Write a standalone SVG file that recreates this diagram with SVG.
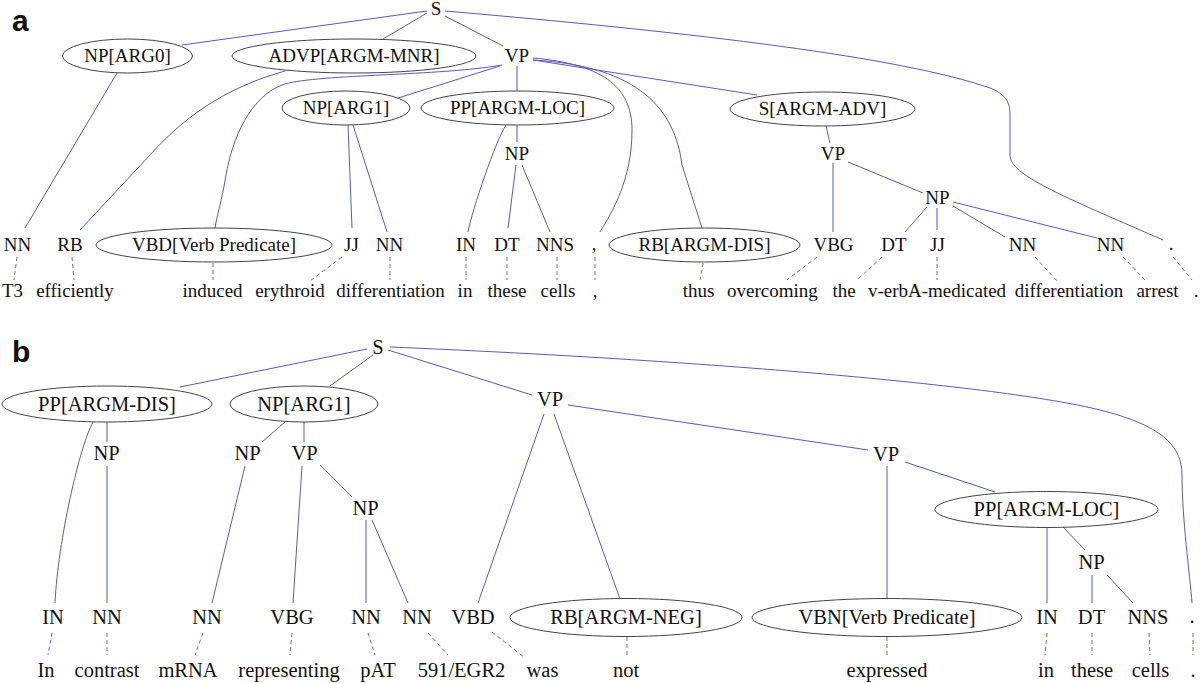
<svg xmlns="http://www.w3.org/2000/svg" width="1200" height="683" viewBox="0 0 1200 683">
<style>
text{font-family:"Liberation Serif","Times New Roman",serif;fill:#111;text-anchor:middle}
.a text{font-size:19px}
.b text{font-size:20.5px}
.lbl{font-family:"Liberation Sans",Arial,sans-serif;font-weight:bold;font-size:30px;text-anchor:start}
ellipse{fill:none;stroke:#444;stroke-width:1}
.e path{fill:none;stroke:#5b5bb5;stroke-width:1}
.d path{fill:none;stroke:#6b6bbf;stroke-width:1;stroke-dasharray:4,3}
</style>
<rect width="1200" height="683" fill="#fff"/>
<text class="lbl" x="12" y="31">a</text>
<text class="lbl" x="12" y="362">b</text>

<g id="edges-a" class="e">
<path d="M427,11 L182,45"/>
<path d="M427,13 L383,39"/>
<path d="M445,16 L503,46"/>
<path d="M445,11 C700,33 900,57 990,88 C1008,95 1010,105 1010,115 L1010,155 C1010,175 1060,195 1163,240"/>
<path d="M285,71 C235,85 190,110 150,155 L80,230"/>
<path d="M502,65 C440,76 320,74 285,84 C250,95 232,140 226,175 C222,200 217,215 215,228"/>
<path d="M500,66 L398,98"/>
<path d="M517,66 L517,91"/>
<path d="M533,58 C600,64 632,85 632,130 C632,180 612,212 600,232"/>
<path d="M533,60 C640,66 675,110 682,165 L702,228"/>
<path d="M533,60 L757,95"/>
<path d="M117,73 L25,228"/>
<path d="M348,125 L352,228"/>
<path d="M353,125 L387,232"/>
<path d="M517,125 L517,142"/>
<path d="M506,125 C496,140 472,210 468,232"/>
<path d="M516,165 L508,228"/>
<path d="M522,165 L550,232"/>
<path d="M826,126 L830,143"/>
<path d="M833,163 L833,232"/>
<path d="M848,162 L923,193"/>
<path d="M927,207 L905,232"/>
<path d="M937,208 L937,230"/>
<path d="M953,206 L1005,237"/>
<path d="M953,202 L1097,238"/>
</g>
<g id="dashes-a" class="d">
<path d="M17,257 L14,280"/>
<path d="M72,257 L74,280"/>
<path d="M213,263 L213,280"/>
<path d="M342,257 L310,281"/>
<path d="M390,257 L390,280"/>
<path d="M466,257 L466,280"/>
<path d="M507,257 L507,280"/>
<path d="M557,257 L557,280"/>
<path d="M595,257 L595,280"/>
<path d="M703,263 L700,280"/>
<path d="M817,257 L787,280"/>
<path d="M882,257 L857,280"/>
<path d="M937,257 L937,280"/>
<path d="M1035,257 L1058,282"/>
<path d="M1123,257 L1145,280"/>
<path d="M1173,257 L1192,280"/>
</g>

<g id="panel-a" class="a">
<g id="a-S"><text x="436" y="15">S</text></g>
<g id="a-NP-ARG0"><ellipse cx="127.5" cy="56" rx="65" ry="17"/><text x="127.5" y="62.3">NP[ARG0]</text></g>
<g id="a-ADVP"><ellipse cx="354" cy="56" rx="122" ry="17"/><text x="354" y="62.3">ADVP[ARGM-MNR]</text></g>
<g id="a-VP"><text x="517" y="62.3">VP</text></g>
<g id="a-NP-ARG1"><ellipse cx="346" cy="108" rx="64" ry="17"/><text x="346" y="114.3">NP[ARG1]</text></g>
<g id="a-PP-LOC"><ellipse cx="517.5" cy="108" rx="96.5" ry="17"/><text x="517.5" y="114.3">PP[ARGM-LOC]</text></g>
<g id="a-S-ADV"><ellipse cx="822.5" cy="109" rx="92.5" ry="17"/><text x="822.5" y="115.3">S[ARGM-ADV]</text></g>
<g id="a-NP2"><text x="517" y="159.5">NP</text></g>
<g id="a-VP2"><text x="833" y="159.5">VP</text></g>
<g id="a-NP3"><text x="937.5" y="204">NP</text></g>
<g id="a-pos-NN1"><text x="17.5" y="251">NN</text><text x="12.5" y="297">T3</text></g>
<g id="a-pos-RB"><text x="70" y="251">RB</text><text x="75" y="297">efficiently</text></g>
<g id="a-pos-VBD"><ellipse cx="214" cy="245" rx="118" ry="17"/><text x="214" y="251">VBD[Verb Predicate]</text><text x="212.5" y="297">induced</text></g>
<g id="a-pos-JJ1"><text x="351.5" y="251">JJ</text><text x="290" y="297">erythroid</text></g>
<g id="a-pos-NN2"><text x="389.5" y="251">NN</text><text x="390.5" y="297">differentiation</text></g>
<g id="a-pos-IN"><text x="466" y="251">IN</text><text x="465" y="297">in</text></g>
<g id="a-pos-DT1"><text x="507" y="251">DT</text><text x="507" y="297">these</text></g>
<g id="a-pos-NNS"><text x="555" y="251">NNS</text><text x="558" y="297">cells</text></g>
<g id="a-pos-comma"><text x="594" y="250">,</text><text x="595" y="297">,</text></g>
<g id="a-pos-RB-DIS"><ellipse cx="704.5" cy="245" rx="95.5" ry="17"/><text x="704.5" y="251">RB[ARGM-DIS]</text><text x="698.5" y="297">thus</text></g>
<g id="a-pos-VBG"><text x="833.5" y="251">VBG</text><text x="772.5" y="297">overcoming</text></g>
<g id="a-pos-DT2"><text x="894" y="251">DT</text><text x="844" y="297">the</text></g>
<g id="a-pos-JJ2"><text x="937.5" y="251">JJ</text><text x="937" y="297">v-erbA-medicated</text></g>
<g id="a-pos-NN3"><text x="1022.5" y="251">NN</text><text x="1069" y="297">differentiation</text></g>
<g id="a-pos-NN4"><text x="1110.5" y="251">NN</text><text x="1157.5" y="297">arrest</text></g>
<g id="a-pos-period"><text x="1171" y="250">.</text><text x="1196" y="297">.</text></g>
</g>

<g id="edges-b" class="e">
<path d="M367,349 L180,387"/>
<path d="M373,355 L330,386"/>
<path d="M388,350 L532,395"/>
<path d="M390,347 C700,360 1000,385 1100,410 C1160,425 1182,445 1182,475 C1182,520 1190,575 1192,603"/>
<path d="M107,422 L107,442"/>
<path d="M93,422 C80,445 58,540 55,603"/>
<path d="M107,466 L107,603"/>
<path d="M285,422 L262,442"/>
<path d="M304,422 L304,442"/>
<path d="M245,466 L212,603"/>
<path d="M302,466 L293,603"/>
<path d="M320,465 L352,497"/>
<path d="M366,520 L366,603"/>
<path d="M372,520 L408,603"/>
<path d="M544,414 L478,603"/>
<path d="M554,414 L620,599"/>
<path d="M568,405 L868,450"/>
<path d="M887,466 L887,599"/>
<path d="M905,462 L995,492"/>
<path d="M1047,527 L1047,603"/>
<path d="M1063,527 L1085,550"/>
<path d="M1092,575 L1092,603"/>
<path d="M1107,575 L1133,603"/>
</g>
<g id="dashes-b" class="d">
<path d="M52,633 L48,655"/>
<path d="M107,633 L107,655"/>
<path d="M203,633 L195,655"/>
<path d="M292,633 L290,655"/>
<path d="M368,633 L375,655"/>
<path d="M428,633 L448,655"/>
<path d="M492,632 L525,658"/>
<path d="M627,637 L627,655"/>
<path d="M887,637 L887,655"/>
<path d="M1047,633 L1045,655"/>
<path d="M1092,633 L1092,655"/>
<path d="M1149,633 L1150,655"/>
<path d="M1193,633 L1193,655"/>
</g>

<g id="panel-b" class="b">
<g id="b-S"><text x="378" y="353.8">S</text></g>
<g id="b-PP-DIS"><ellipse cx="107" cy="404" rx="105" ry="18"/><text x="107" y="410.8">PP[ARGM-DIS]</text></g>
<g id="b-NP-ARG1"><ellipse cx="304" cy="404" rx="74" ry="18"/><text x="304" y="410.8">NP[ARG1]</text></g>
<g id="b-VP"><text x="550" y="405.8">VP</text></g>
<g id="b-NP1"><text x="106.5" y="459.8">NP</text></g>
<g id="b-NP2"><text x="247.5" y="459.8">NP</text></g>
<g id="b-VP2"><text x="304.5" y="459.8">VP</text></g>
<g id="b-VP3"><text x="886" y="460.8">VP</text></g>
<g id="b-NP3"><text x="365.5" y="514.8">NP</text></g>
<g id="b-PP-LOC"><ellipse cx="1046.5" cy="509.5" rx="111.5" ry="18"/><text x="1046.5" y="516.3">PP[ARGM-LOC]</text></g>
<g id="b-NP4"><text x="1091.5" y="568.8">NP</text></g>
<g id="b-pos-IN1"><text x="53" y="623.8">IN</text><text x="46" y="677">In</text></g>
<g id="b-pos-NN1"><text x="107" y="623.8">NN</text><text x="107" y="677">contrast</text></g>
<g id="b-pos-NN2"><text x="207" y="623.8">NN</text><text x="188" y="677">mRNA</text></g>
<g id="b-pos-VBG"><text x="292" y="623.8">VBG</text><text x="289" y="677">representing</text></g>
<g id="b-pos-NN3"><text x="366" y="623.8">NN</text><text x="378" y="677">pAT</text></g>
<g id="b-pos-NN4"><text x="417" y="623.8">NN</text><text x="461.5" y="677">591/EGR2</text></g>
<g id="b-pos-VBD"><text x="473" y="623.8">VBD</text><text x="542.5" y="677">was</text></g>
<g id="b-pos-RB-NEG"><ellipse cx="626" cy="617.5" rx="116" ry="19"/><text x="626" y="624.3">RB[ARGM-NEG]</text><text x="626" y="677">not</text></g>
<g id="b-pos-VBN"><ellipse cx="887" cy="617.5" rx="135" ry="19"/><text x="887" y="624.3">VBN[Verb Predicate]</text><text x="887" y="677">expressed</text></g>
<g id="b-pos-IN2"><text x="1047" y="623.8">IN</text><text x="1046" y="677">in</text></g>
<g id="b-pos-DT"><text x="1091.5" y="623.8">DT</text><text x="1092" y="677">these</text></g>
<g id="b-pos-NNS"><text x="1148" y="623.8">NNS</text><text x="1150.5" y="677">cells</text></g>
<g id="b-pos-period"><text x="1192" y="623">.</text><text x="1193" y="677">.</text></g>
</g>
</svg>
